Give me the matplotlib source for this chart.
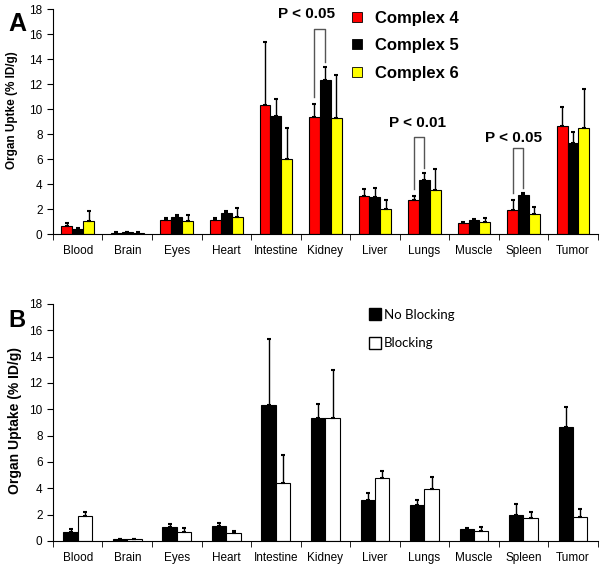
import numpy as np
import matplotlib.pyplot as plt
from matplotlib.lines import Line2D

organs = ["Blood", "Brain", "Eyes", "Heart", "Intestine", "Kidney",
          "Liver", "Lungs", "Muscle", "Spleen", "Tumor"]

# panel A: complexes 4, 5, 6 (mean and upper error)
c4 = [0.69, 0.12, 1.12, 1.15, 10.32, 9.33, 3.07, 2.72, 0.88, 1.97, 8.61]
c4_err = [0.24, 0.02, 0.21, 0.16, 5.01, 1.10, 0.53, 0.37, 0.11, 0.80, 1.55]
c5 = [0.45, 0.15, 1.41, 1.71, 9.47, 12.32, 2.99, 4.32, 1.15, 3.17, 7.28]
c5_err = [0.07, 0.02, 0.16, 0.16, 1.33, 1.07, 0.74, 0.59, 0.05, 0.14, 0.93]
c6 = [1.04, 0.13, 1.09, 1.39, 6.00, 9.28, 2.03, 3.55, 0.96, 1.65, 8.48]
c6_err = [0.80, 0.02, 0.43, 0.69, 2.50, 3.41, 0.74, 1.65, 0.32, 0.54, 3.15]

# panel B: blocking study
no_block = [0.68, 0.12, 1.09, 1.14, 10.33, 9.34, 3.08, 2.70, 0.88, 1.94, 8.64]
no_block_err = [0.23, 0.02, 0.22, 0.20, 5.02, 1.06, 0.56, 0.40, 0.08, 0.86, 1.51]
block = [1.92, 0.15, 0.68, 0.63, 4.42, 9.34, 4.80, 3.96, 0.76, 1.77, 1.82]
block_err = [0.30, 0.02, 0.28, 0.15, 2.12, 3.64, 0.53, 0.89, 0.30, 0.43, 0.58]

# significance brackets (organ, bracket top, label)
brackets = [("Kidney", 16.4, "P < 0.05"),
            ("Lungs", 7.75, "P < 0.01"),
            ("Spleen", 6.9, "P < 0.05")]
bracket_text_pos = [(4.61, 17.6), (6.86, 8.88), (8.79, 7.68)]

plt.rcParams['font.family'] = ['Liberation Sans', 'DejaVu Sans']

fig = plt.figure(figsize=(6.04, 5.67), dpi=100)
axA = fig.add_axes([0.0877, 0.587, 0.902, 0.397])
axB = fig.add_axes([0.0877, 0.046, 0.902, 0.418])

x = np.arange(len(organs))


def style_axis(ax):
    ax.spines['top'].set_visible(False)
    ax.spines['right'].set_visible(False)
    ax.set_xlim(-0.5, len(organs) - 0.5)
    ax.set_ylim(0, 18)
    ax.set_yticks(np.arange(0, 19, 2))
    ax.set_xticks(x)
    ax.set_xticklabels(organs, fontsize=8.5)
    ax.tick_params(axis='x', which='major', length=0, pad=8)
    ax.set_xticks(np.arange(-0.5, len(organs), 1), minor=True)
    ax.tick_params(axis='x', which='minor', length=4, direction='out')
    ax.tick_params(axis='y', labelsize=8.5, length=4, direction='out')


def draw_bars(ax, vals, errs, offset, width, color):
    vals = np.array(vals)
    errs = np.array(errs)
    ax.bar(x + offset, vals, width, color=color, edgecolor='black', linewidth=0.8, zorder=2)
    ax.errorbar(x + offset, vals, yerr=[np.zeros_like(errs), errs], fmt='none',
                ecolor='black', elinewidth=1, capsize=1.5, capthick=1.5, zorder=3)


# panel A
w = 0.22
draw_bars(axA, c4, c4_err, -w, w, 'red')
draw_bars(axA, c5, c5_err, 0, w, 'black')
draw_bars(axA, c6, c6_err, w, w, 'yellow')
style_axis(axA)
for (organ, ytop, label), (tx, ty) in zip(brackets, bracket_text_pos):
    i = organs.index(organ)
    y_left = c4[i] + c4_err[i] + 0.5
    y_right = c5[i] + c5_err[i] + 0.4
    axA.plot([i - w, i - w, i, i], [y_left, ytop, ytop, y_right],
             color='#555555', linewidth=1, zorder=4)
    axA.text(tx, ty, label, ha='center', va='center', fontsize=11, fontweight='bold')

handlesA = [Line2D([], [], marker='s', linestyle='none', markersize=7,
                   markerfacecolor=c, markeredgecolor='black', markeredgewidth=0.6)
            for c in ['red', 'black', 'yellow']]
axA.legend(handlesA, ['Complex 4', 'Complex 5', 'Complex 6'], loc='upper left',
           bbox_to_anchor=(0.515, 1.06), frameon=False, handlelength=1.0,
           handletextpad=0.6, labelspacing=0.75,
           prop={'weight': 'bold', 'size': 12})

# panel B
wb = 0.29
draw_bars(axB, no_block, no_block_err, -wb / 2, wb, 'black')
draw_bars(axB, block, block_err, wb / 2, wb, 'white')
style_axis(axB)
handlesB = [Line2D([], [], marker='s', linestyle='none', markersize=8,
                   markerfacecolor=c, markeredgecolor='black', markeredgewidth=1)
            for c in ['black', 'white']]
axB.legend(handlesB, ['No Blocking', 'Blocking'], loc='upper left',
           bbox_to_anchor=(0.56, 1.03), frameon=False, handlelength=0.8,
           handletextpad=0.25, labelspacing=1.25,
           prop={'family': 'Lato', 'size': 9.5})

fig.text(0.020, 0.806, 'Organ Uptke (% ID/g)', rotation=90, ha='center', va='center',
         fontsize=8.5, fontweight='bold')
fig.text(0.025, 0.259, 'Organ Uptake (% ID/g)', rotation=90, ha='center', va='center',
         fontsize=10, fontweight='bold')
fig.text(0.028, 0.958, 'A', ha='center', va='center', fontsize=18, fontweight='bold')
fig.text(0.028, 0.434, 'B', ha='center', va='center', fontsize=17, fontweight='bold')

fig.savefig('out.png', dpi=100)
